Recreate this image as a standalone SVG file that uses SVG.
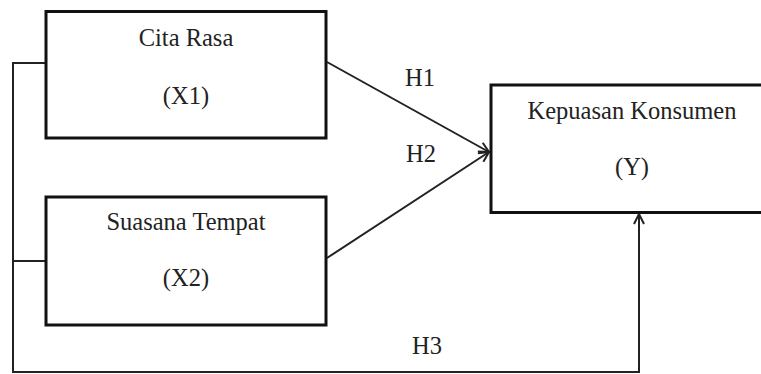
<svg xmlns="http://www.w3.org/2000/svg" width="761" height="374" viewBox="0 0 761 374">
<style>
.box{fill:#fff;stroke:#111;stroke-width:3}
.ln{fill:none;stroke:#222;stroke-width:2}
text{font-family:"Liberation Serif","Times New Roman",serif;font-size:24.5px;fill:#222;text-anchor:middle}
</style>
<defs>
<marker id="arr" viewBox="0 0 12 12" refX="11" refY="6" markerWidth="12" markerHeight="12" markerUnits="userSpaceOnUse" orient="auto">
<path d="M1,1 L11,6 L1,11" fill="none" stroke="#222" stroke-width="2"/>
</marker>
</defs>
<rect width="761" height="374" fill="#fff"/>
<g id="connectors">
<path class="ln" d="M46,63 H13 V372 H639 V214" marker-end="url(#arr)"/>
<path class="ln" d="M13,261 H46"/>
<path class="ln" d="M327,62 L489,152" marker-end="url(#arr)"/>
<path class="ln" d="M327,258 L489,152" marker-end="url(#arr)"/>
<text x="420" y="86">H1</text>
<text x="421" y="162">H2</text>
<text x="427" y="354">H3</text>
</g>
<g id="x1">
<rect class="box" x="46" y="11.5" width="280" height="126.5"/>
<text x="186" y="46">Cita Rasa</text>
<text x="186" y="104">(X1)</text>
</g>
<g id="x2">
<rect class="box" x="46" y="197" width="280" height="128"/>
<text x="186" y="230">Suasana Tempat</text>
<text x="186" y="286">(X2)</text>
</g>
<g id="y">
<rect class="box" x="491" y="85" width="300" height="127.5"/>
<text x="632" y="119">Kepuasan Konsumen</text>
<text x="632" y="175">(Y)</text>
</g>
</svg>
